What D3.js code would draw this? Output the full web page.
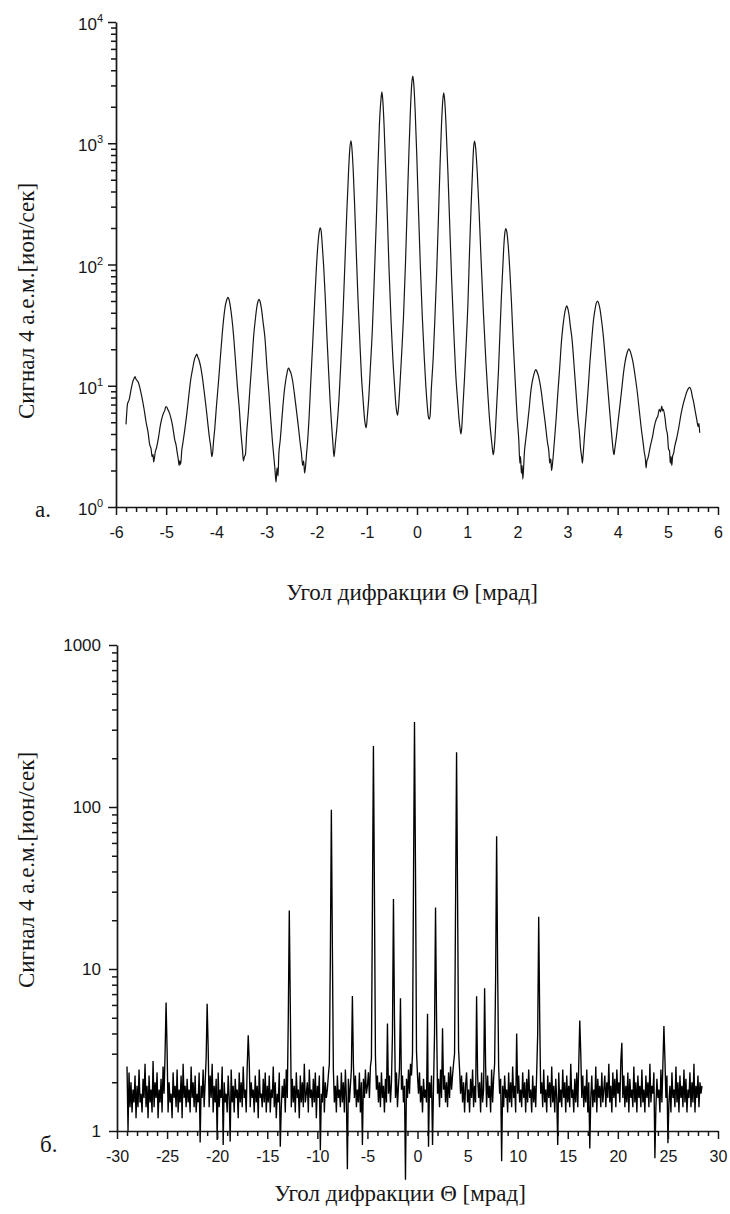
<!DOCTYPE html>
<html><head><meta charset="utf-8">
<script src="https://cdn.jsdelivr.net/npm/d3@7"></script>
<style>
body{margin:0;background:#fff;}
svg{display:block;}
.serif{font-family:"Liberation Serif","DejaVu Serif","Times New Roman",serif;}
.sans{font-family:"Liberation Sans",Arial,Helvetica,sans-serif;}
</style></head><body>
<svg id="chart" width="730" height="1214"></svg>
<script>
// ---------- Panel (а): diffraction angle (mrad) vs signal, log scale ----------
const thetaA = [
-5.80,-5.77,-5.74,-5.70,-5.66,-5.64,-5.62,-5.60,
-5.56,-5.49,-5.44,-5.40,-5.36,-5.33,-5.30,-5.28,-5.26,-5.25,-5.23,
-5.22,-5.19,-5.15,-5.12,-5.09,-5.05,-5.03,-5.01,-4.99,-4.97,
-4.95,-4.90,-4.87,-4.83,-4.80,-4.78,-4.76,-4.74,-4.73,-4.71,
-4.69,-4.67,-4.63,-4.59,-4.55,-4.51,-4.47,-4.44,-4.41,-4.39,-4.37,
-4.34,-4.31,-4.28,-4.24,-4.20,-4.17,-4.14,-4.11,-4.09,-4.07,
-4.06,-4.03,-4.00,-3.96,-3.92,-3.88,-3.85,-3.82,-3.79,-3.77,-3.75,
-3.72,-3.69,-3.66,-3.62,-3.58,-3.54,-3.51,-3.48,-3.46,-3.44,-3.42,
-3.396,-3.36,-3.33,-3.29,-3.255,-3.22,-3.195,-3.17,-3.15,-3.13,
-3.10,-3.07,-3.03,-2.99,-2.95,-2.92,-2.88,-2.85,-2.83,-2.81,-2.79,-2.77,
-2.755,-2.725,-2.705,-2.675,-2.645,-2.615,-2.59,-2.57,-2.555,-2.54,
-2.51,-2.48,-2.45,-2.41,-2.37,-2.33,-2.30,-2.28,-2.26,-2.24,-2.22,
-2.20,-2.18,-2.15,-2.12,-2.08,-2.04,-2.005,-1.975,-1.95,-1.93,-1.91,
-1.89,-1.86,-1.83,-1.80,-1.76,-1.73,-1.70,-1.675,-1.655,-1.64,
-1.625,-1.595,-1.555,-1.52,-1.475,-1.435,-1.40,-1.365,-1.34,-1.315,
-1.297,-1.272,-1.242,-1.212,-1.177,-1.137,-1.107,-1.072,-1.047,-1.027,-1.012,
-0.99,-0.96,-0.93,-0.89,-0.85,-0.81,-0.78,-0.75,-0.72,-0.70,
-0.682,-0.657,-0.627,-0.592,-0.557,-0.517,-0.482,-0.447,-0.422,-0.402,-0.387,
-0.364,-0.339,-0.304,-0.269,-0.229,-0.194,-0.162,-0.131,-0.106,-0.084,
-0.063,-0.037,-0.005,0.027,0.065,0.107,0.145,0.177,0.205,0.225,0.245,0.26,
0.287,0.323,0.353,0.393,0.428,0.458,0.488,0.513,0.533,
0.554,0.58,0.615,0.65,0.69,0.735,0.77,0.81,0.84,0.86,0.875,0.89,
0.917,0.947,0.977,1.017,1.047,1.077,1.107,1.127,1.147,
1.171,1.201,1.239,1.277,1.324,1.374,1.414,1.454,1.484,1.504,1.519,1.534,
1.553,1.568,1.593,1.623,1.653,1.683,1.713,1.733,1.753,1.773,
1.79,1.818,1.85,1.882,1.92,1.96,1.995,2.03,2.05,2.065,2.08,2.095,2.11,2.125,
2.138,2.168,2.198,2.238,2.268,2.298,2.328,2.368,
2.387,2.417,2.447,2.477,2.517,2.557,2.597,2.627,2.647,2.667,2.682,2.697,
2.714,2.739,2.774,2.804,2.844,2.879,2.909,2.939,2.964,2.984,
3.002,3.029,3.057,3.092,3.132,3.167,3.202,3.237,3.262,3.282,3.297,3.312,
3.345,3.379,3.413,3.449,3.489,3.519,3.549,3.574,3.599,
3.617,3.647,3.677,3.712,3.757,3.797,3.832,3.867,3.892,3.912,3.927,3.942,
3.978,4.009,4.044,4.084,4.119,4.149,4.179,4.204,4.224,
4.242,4.272,4.307,4.342,4.392,4.432,4.472,4.507,4.532,4.552,4.567,4.582,
4.60,4.626,4.66,4.695,4.73,4.77,4.80,4.83,4.855,4.88,
4.894,4.909,4.944,4.969,4.994,5.014,5.034,5.049,5.064,5.079,5.094,
5.117,5.134,5.177,5.217,5.262,5.307,5.347,5.382,5.412,5.437,
5.46,5.49,5.515,5.545,5.575,5.605,5.62,5.635
];
const signalA = [
4.8,7.1,7.6,9.3,11.0,11.5,11.9,11.3,
10.8,8.3,6.4,5.0,4.1,3.3,3.0,2.6,2.7,2.35,2.6,
2.8,3.1,3.8,4.6,5.3,6.0,6.2,6.7,6.7,6.4,
6.2,5.3,4.6,3.6,3.2,2.8,2.5,2.2,2.4,2.25,
2.9,3.3,4.3,5.8,8.2,11.3,14.0,16.3,17.6,18.2,17.3,
16.0,14.2,11.9,8.8,6.4,4.9,3.8,3.1,2.6,2.9,
3.3,4.5,6.6,10.4,17,27.5,37,46,51.5,53.5,52,
45,36,27,16.5,9.8,6.3,4.1,3.0,2.4,2.6,2.7,
4.0,6.2,9.5,16,26,36,44,49.5,51.5,49.8,
43,34,24.5,14,8.5,5.6,3.4,2.5,2.0,1.6,2.1,1.8,
2.7,3.6,4.6,6.6,9.0,11.2,12.8,13.8,14.0,13.5,
12.6,11.0,9.0,6.6,4.8,3.4,2.7,2.2,2.4,1.9,2.2,
2.8,3.5,5.6,10.3,22,49,95,146,185,201,188,
148,96,55,28,12.7,7.2,4.6,3.3,2.6,2.9,
3.4,4.6,7.8,15,39,108,265,575,895,1045,
905,605,300,132,53,22,12,7.4,5.4,4.7,4.5,
5.6,8.1,14,29,80,237,613,1400,2250,2650,
2270,1430,646,258,91,34,17,10,7.0,6.0,5.7,
7.0,10.3,19,37,104,311,817,1880,3050,3580,
3040,1870,807,305,101,36,17,9.8,6.8,5.6,5.3,5.6,
9.6,17,33,88,250,631,1405,2230,2600,
2210,1370,593,226,76,27,13,7.5,5.2,4.4,4.0,4.4,
6.9,11.5,20.7,50,128,292,600,906,1040,
897,575,267,110,40,15.6,8.3,4.8,3.6,3.0,2.7,2.9,
3.6,4.7,7.5,13,27,55,100,147,185,198,
187,144,90,50,22,10.5,5.6,3.5,2.3,2.6,1.9,2.2,1.7,2.1,
2.7,3.6,4.6,6.6,8.9,10.8,12.3,13.6,
13.2,12.2,10.7,9.0,6.6,4.9,3.5,2.9,2.3,2.5,2.0,2.2,
2.6,3.5,5.4,8.3,14,23,31,38.5,43.5,45.5,
44,38.9,31,23.8,14.5,9.2,5.8,4.1,3.0,2.6,2.3,2.7,
4.2,6.2,9.6,16,25.7,35,42.7,48,50,
48.5,43,35,26.3,16,10.2,6.8,4.6,3.5,2.9,2.7,3.0,
3.9,5.1,6.8,9.6,13,15.8,18.1,19.5,20.2,
19.6,18,15.5,12.5,8.8,6.2,4.4,3.4,2.8,2.5,2.1,2.4,
2.5,2.8,3.3,3.8,4.6,5.3,5.6,6.4,6.1,6.8,
6.2,6.4,5.4,4.4,3.9,3.0,2.9,2.3,2.6,2.2,2.6,
2.8,3.1,3.7,4.5,5.8,7.1,8.1,9.0,9.5,9.7,
9.3,8.1,7.3,6.2,5.3,4.6,4.9,4.1
];
const xTicksA = [-6,-5,-4,-3,-2,-1,0,1,2,3,4,5,6];
const xTickLabelsA = ["-6","-5","-4","-3","-2","-1","0","1","2","3","4","5","6"];
const yTicksA = [1,10,100,1000,10000];
const yTickExpA = ["0","1","2","3","4"];

// ---------- Panel (б): signal sampled every 0.1 mrad from -29.0 mrad ----------
const thetaStartB = -29.0;
const thetaStepB = 0.1;
const signalB = [
2.5,1.0,2.3,1.4,2.0,1.3,1.8,1.5,2.2,1.2,1.9,1.4,2.4,1.5,1.7,1.3,2.1,1.6,2.6,1.4,
1.9,1.2,2.2,1.5,1.8,1.3,2.7,1.4,2.0,1.6,2.3,1.2,1.8,1.5,2.1,1.3,2.5,1.7,3.0,6.2,
3.2,1.3,2.0,1.5,1.7,1.2,2.3,1.6,1.9,1.4,2.4,1.3,1.8,1.5,2.2,1.2,2.6,1.6,1.9,1.4,
2.1,1.5,1.8,1.3,2.5,1.6,2.0,1.4,2.2,1.3,1.7,1.5,2.3,0.85,1.9,1.6,2.4,1.4,2.0,2.8,
6.1,3.3,1.4,2.2,1.6,2.6,1.3,1.9,1.5,2.1,0.88,2.3,1.4,1.8,1.6,2.5,0.82,2.0,1.5,1.7,
1.3,2.2,1.6,0.86,2.4,1.5,1.9,1.3,2.1,1.6,1.8,1.2,2.3,1.5,2.0,1.4,2.5,1.6,1.8,1.3,
2.5,3.9,2.7,1.4,2.0,1.6,1.8,1.3,2.2,1.5,1.9,1.2,2.4,1.6,1.7,1.4,2.1,1.5,2.3,1.3,
1.9,1.5,2.2,1.3,1.8,1.6,2.5,1.4,2.0,1.2,1.7,1.5,2.3,0.8,1.4,1.9,1.6,2.1,1.3,2.4,
1.6,5.0,23,6.0,1.4,2.1,1.5,1.9,1.3,2.3,1.6,1.8,1.2,2.2,1.5,2.0,1.4,2.6,1.5,1.7,
2.0,1.3,2.4,1.6,1.8,1.4,2.1,1.5,2.3,1.2,1.9,1.6,2.2,0.76,1.7,1.5,2.5,1.3,2.0,1.6,
1.8,2.2,2.6,12,96,14,2.4,1.5,1.9,1.3,2.2,1.6,1.8,1.4,2.3,1.5,2.0,1.3,2.4,1.6,
0.58,2.1,1.5,1.9,2.4,6.8,2.6,1.6,2.2,1.4,1.8,1.5,2.3,1.3,2.0,0.82,2.1,1.6,2.4,1.7,
1.9,2.3,1.6,2.5,2.8,25,238,30,2.9,1.8,2.2,1.5,2.0,1.4,2.3,1.6,1.9,1.3,2.1,1.5,
4.6,1.7,2.2,1.5,2.0,4.0,27,5.0,1.6,2.3,1.4,1.9,2.4,6.6,1.8,2.2,1.5,1.9,0.5,2.1,
1.6,2.4,1.7,2.6,2.2,3.0,35,335,40,3.1,2.2,1.7,2.3,1.5,1.9,1.3,2.1,1.6,1.8,1.5,
5.3,0.8,2.0,1.6,2.2,0.82,1.9,4.0,24,5.0,1.7,2.1,1.4,2.4,1.6,4.3,1.8,2.2,1.5,2.0,
1.4,2.3,1.6,2.5,1.8,2.2,2.6,3.0,25,218,28,3.2,2.4,1.7,2.2,1.5,2.0,1.3,1.9,2.3,
1.5,1.8,1.3,2.1,1.6,2.4,1.4,1.9,1.5,6.8,2.2,1.6,2.0,1.3,2.3,1.5,1.8,7.6,2.5,1.4,
2.2,1.6,1.9,1.3,2.4,1.5,2.1,2.6,9.0,66,10,2.5,1.7,2.1,0.65,1.9,1.4,2.2,1.6,1.8,
1.3,2.3,1.5,2.0,1.4,2.5,1.6,1.9,1.3,4.0,1.7,2.2,1.5,1.8,1.4,2.3,1.6,2.0,1.3,2.1,
1.5,2.4,1.6,1.8,1.3,2.2,1.5,1.9,1.4,2.3,4.0,21,5.0,1.7,2.0,1.4,2.4,1.5,1.8,1.3,
2.2,1.6,2.0,1.4,2.5,1.5,1.9,1.3,2.1,1.6,0.82,2.3,1.5,1.8,1.4,2.4,1.6,2.0,1.3,2.2,
1.5,1.9,1.4,2.6,1.6,1.8,1.3,2.1,1.5,2.3,1.4,2.6,4.8,3.0,1.6,2.2,1.4,1.9,1.5,2.4,
1.3,2.0,0.78,1.6,2.2,1.4,1.8,1.5,2.5,1.3,2.1,1.6,1.9,1.4,2.3,1.5,1.8,2.2,1.4,2.0,
1.6,2.6,1.5,1.9,1.3,2.3,1.6,2.1,1.4,2.4,1.7,2.0,1.5,2.7,3.5,1.6,2.2,1.4,1.9,1.5,
2.3,1.3,2.1,1.6,1.8,1.4,2.5,1.5,2.0,1.3,2.2,1.6,1.9,1.4,2.4,1.5,1.8,1.3,2.2,1.6,
2.0,1.4,2.6,1.5,1.9,1.7,2.3,0.68,1.4,2.1,1.6,1.8,1.3,2.4,1.5,2.6,4.45,2.8,1.6,2.2,
0.84,1.5,1.9,1.3,2.3,1.6,1.8,1.4,2.5,1.5,2.0,1.3,2.2,1.6,1.9,1.4,2.4,1.5,2.1,1.3,
1.8,1.6,2.3,1.4,2.0,1.5,2.6,1.3,1.9,1.6,2.2,1.4,2.0,1.7,1.9
];
const xTicksB = [-30,-25,-20,-15,-10,-5,0,5,10,15,20,25,30];
const xTickLabelsB = ["-30","-25","-20","-15","-10","-5","0","5","10","15","20","25","30"];
const yTicksB = [1,10,100,1000];
const yTickLabelsB = ["1","10","100","1000"];

const yTitle = "Сигнал 4 а.е.м.[ион/сек]";
const xTitle = "Угол дифракции Θ [мрад]";
const panelLabels = ["а.", "б."];

// ---------- drawing ----------
const svg = d3.select("#chart");
svg.append("rect").attr("width",730).attr("height",1214).attr("fill","#fff");
const INK = "#161616";

function minorLog(domain){
  const out=[];
  for(let e=Math.log10(domain[0]); e<Math.log10(domain[1]); e++){
    for(let m=2;m<=9;m++) out.push(m*Math.pow(10,e));
  }
  return out;
}
function styleAxis(g){
  g.selectAll("path.domain").attr("stroke",INK).attr("stroke-width",1.7);
  g.selectAll(".tick line").attr("stroke",INK).attr("stroke-width",1.5);
}

// Panel а
const xA = d3.scaleLinear().domain([-6,6]).range([116,718]);
const yA = d3.scaleLog().domain([1,10000]).range([507,22]);

const minorXA = d3.range(-60,61,2).filter(v=>v%10!==0).map(v=>v/10);
svg.append("g").attr("transform","translate(0,507)")
  .call(d3.axisBottom(xA).tickValues(minorXA).tickSize(5).tickSizeOuter(0).tickFormat(""))
  .call(g=>{g.select(".domain").remove();styleAxis(g);});
const gxA = svg.append("g").attr("transform","translate(0,507)")
  .call(d3.axisBottom(xA).tickValues(xTicksA).tickSize(8).tickSizeOuter(0).tickPadding(12)
    .tickFormat((d,i)=>xTickLabelsA[i]));
styleAxis(gxA);
gxA.selectAll("text").attr("class","sans").attr("font-family",null).attr("font-size",16).attr("fill",INK);

svg.append("g").attr("transform","translate(116,0)")
  .call(d3.axisLeft(yA).tickValues(minorLog([1,10000])).tickSize(5).tickSizeOuter(0).tickFormat(""))
  .call(g=>{g.select(".domain").remove();styleAxis(g);});
const gyA = svg.append("g").attr("transform","translate(116,0)")
  .call(d3.axisLeft(yA).tickValues(yTicksA).tickSize(8).tickSizeOuter(0).tickFormat(""));
styleAxis(gyA);
yTicksA.forEach((v,i)=>{
  const t = svg.append("text").attr("class","sans").attr("x",103).attr("y",yA(v)+8)
    .attr("text-anchor","end").attr("font-size",17).attr("fill",INK);
  t.append("tspan").text("10");
  t.append("tspan").attr("dy",-8).attr("font-size",11).text(yTickExpA[i]);
});

svg.append("path")
  .datum(thetaA.map((t,i)=>[t,signalA[i]]))
  .attr("fill","none").attr("stroke",INK).attr("stroke-width",1.2).attr("stroke-linejoin","round")
  .attr("d", d3.line().x(d=>xA(d[0])).y(d=>yA(d[1])).curve(d3.curveMonotoneX));

// Panel б
const xB = d3.scaleLinear().domain([-30,30]).range([117,718]);
const yB = d3.scaleLog().domain([1,1000]).range([1131,645]);

const minorXB = d3.range(-30,31,1).filter(v=>v%5!==0);
svg.append("g").attr("transform","translate(0,1131)")
  .call(d3.axisBottom(xB).tickValues(minorXB).tickSize(5).tickSizeOuter(0).tickFormat(""))
  .call(g=>{g.select(".domain").remove();styleAxis(g);});

svg.append("path")
  .datum(signalB.map((v,i)=>[thetaStartB+i*thetaStepB, v]))
  .attr("fill","none").attr("stroke","#000").attr("stroke-width",1.35)
  .attr("d", d3.line().x(d=>xB(d[0])).y(d=>yB(d[1])));

const gxB = svg.append("g").attr("transform","translate(0,1131)")
  .call(d3.axisBottom(xB).tickValues(xTicksB).tickSize(8).tickSizeOuter(0).tickPadding(12)
    .tickFormat((d,i)=>xTickLabelsB[i]));
styleAxis(gxB);
gxB.selectAll("text").attr("class","sans").attr("font-family",null).attr("font-size",16).attr("fill",INK);

svg.append("g").attr("transform","translate(117,0)")
  .call(d3.axisLeft(yB).tickValues(minorLog([1,1000])).tickSize(5).tickSizeOuter(0).tickFormat(""))
  .call(g=>{g.select(".domain").remove();styleAxis(g);});
const gyB = svg.append("g").attr("transform","translate(117,0)")
  .call(d3.axisLeft(yB).tickValues(yTicksB).tickSize(8).tickSizeOuter(0).tickPadding(8)
    .tickFormat((d,i)=>yTickLabelsB[i]));
styleAxis(gyB);
gyB.selectAll("text").attr("class","sans").attr("font-family",null).attr("font-size",17).attr("fill",INK);

// titles
function serifText(x,y,txt,rot){
  const t = svg.append("text").attr("class","serif").attr("font-size",23).attr("fill",INK).text(txt);
  if(rot){ t.attr("transform",`translate(${x},${y}) rotate(-90)`).attr("text-anchor","middle"); }
  else { t.attr("x",x).attr("y",y); }
  return t;
}
serifText(34,301,yTitle,true);
serifText(34,870,yTitle,true);
serifText(412,600,xTitle).attr("text-anchor","middle");
serifText(400,1201,xTitle).attr("text-anchor","middle");
serifText(35,517,panelLabels[0]);
serifText(40,1152,panelLabels[1]);
</script>
</body></html>
